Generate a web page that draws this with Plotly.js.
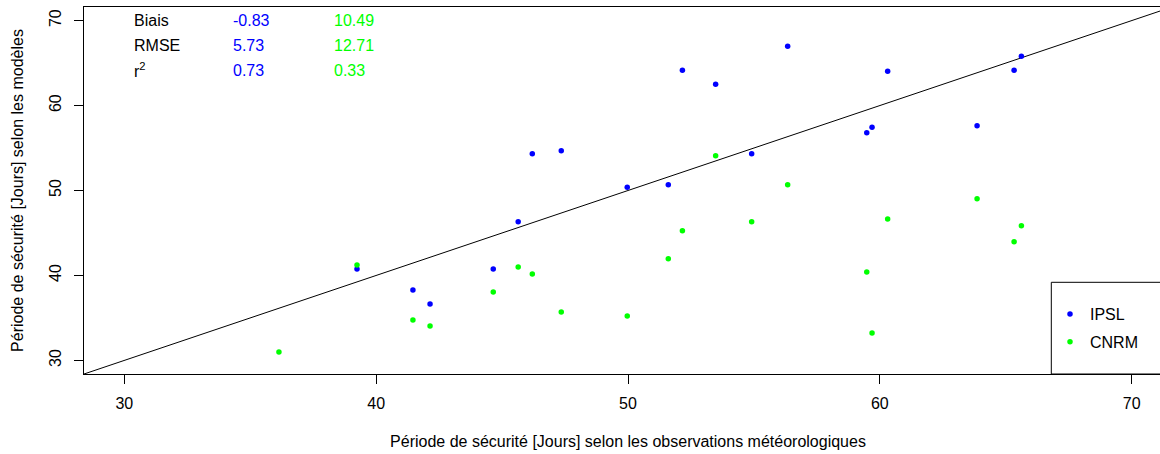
<!DOCTYPE html>
<html>
<head>
<meta charset="utf-8">
<script src="https://cdn.plot.ly/plotly-3.0.1.min.js"></script>
<style>
  html, body { margin: 0; padding: 0; overflow: hidden; background: #fff; }
  #chart { width: 1175px; height: 454px; }
</style>
</head>
<body>
<div id="chart"></div>
<script>
// ---- data ----
const obsDays  = [36.14, 39.24, 41.46, 42.14, 44.65, 45.64, 46.20, 47.35, 49.97, 51.60, 52.16, 53.48, 54.91, 56.34, 59.48, 59.69, 60.31, 63.86, 65.33, 65.62];
const ipslDays = [null, 40.76, 38.29, 36.64, 40.76, 46.33, 54.33, 54.68, 50.38, 50.68, 64.15, 62.50, 54.33, 66.97, 56.80, 57.44, 64.03, 57.63, 64.15, 65.80];
const cnrmDays = [30.99, 41.23, 34.76, 34.05, 38.05, 40.99, 40.17, 35.70, 35.23, 41.97, 45.27, 54.10, 46.33, 50.68, 40.41, 33.23, 46.65, 49.03, 43.97, 45.86];

const seriesNames = ["IPSL", "CNRM"];
const statLabels = ["Biais", "RMSE", "r<sup>2</sup>"];
const ipslStats  = ["-0.83", "5.73", "0.73"];
const cnrmStats  = ["10.49", "12.71", "0.33"];

const axisLimits = [28.4, 71.6];
const tickVals   = [30, 40, 50, 60, 70];

const xTitle = "Période de sécurité [Jours] selon les observations météorologiques";
const yTitle = "Période de sécurité [Jours] selon les modèles";

// ---- layout helpers (pixel -> paper) ----
const L = 84, T = 7, PW = 1088, PH = 367;
const px = v => (v - L) / PW;
const py = v => (T + PH - v) / PH;

const FONT = "Arial, 'Liberation Sans', sans-serif";
const BLUE = "#0000ff", GREEN = "#00ff00";

const traces = [
  { x: axisLimits, y: axisLimits, mode: "lines", line: { color: "#000", width: 1 },
    showlegend: false, hoverinfo: "skip" },
  { x: obsDays, y: ipslDays, mode: "markers", name: seriesNames[0], legendgroup: "a",
    marker: { color: BLUE, size: 5.5 } },
  { x: obsDays, y: cnrmDays, mode: "markers", name: seriesNames[1], legendgroup: "b",
    marker: { color: GREEN, size: 5.5 } }
];

const annotations = [];
const rowY = [20.7, 45.7, 70.5];
statLabels.forEach((lab, i) => {
  annotations.push({ xref: "paper", yref: "paper", x: px(132), y: py(rowY[i]), xanchor: "left", yanchor: "middle",
    text: lab, showarrow: false, font: { family: FONT, size: 16, color: "#000" } });
  annotations.push({ xref: "paper", yref: "paper", x: px(231), y: py(rowY[i]), xanchor: "left", yanchor: "middle",
    text: ipslStats[i], showarrow: false, font: { family: FONT, size: 16, color: BLUE } });
  annotations.push({ xref: "paper", yref: "paper", x: px(332), y: py(rowY[i]), xanchor: "left", yanchor: "middle",
    text: cnrmStats[i], showarrow: false, font: { family: FONT, size: 16, color: GREEN } });
});

const layout = {
  width: 1175, height: 454,
  margin: { l: L, r: 1175 - L - PW, t: T, b: 454 - T - PH, pad: 0 },
  paper_bgcolor: "#fff", plot_bgcolor: "#fff",
  font: { family: FONT, size: 16, color: "#000" },
  xaxis: {
    range: axisLimits, tickvals: tickVals, ticks: "outside", ticklen: 9, tickwidth: 1, tickcolor: "#000",
    showline: true, linecolor: "#000", linewidth: 1, mirror: true, showgrid: false, zeroline: false,
    ticklabelstandoff: 6,
    tickfont: { family: FONT, size: 16, color: "#000" },
    title: { text: xTitle, font: { family: FONT, size: 16, color: "#000" }, standoff: 24 }
  },
  yaxis: {
    range: axisLimits, tickvals: tickVals, ticks: "outside", ticklen: 9, tickwidth: 1, tickcolor: "#000",
    showline: true, linecolor: "#000", linewidth: 1, mirror: false, showgrid: false, zeroline: false,
    tickangle: -90, ticklabelstandoff: 7,
    tickfont: { family: FONT, size: 16, color: "#000" },
    title: { text: yTitle, font: { family: FONT, size: 16, color: "#000" }, standoff: 18 }
  },
  showlegend: true,
  legend: {
    x: px(1050), y: py(297), xanchor: "left", yanchor: "top",
    bgcolor: "rgba(0,0,0,0)", borderwidth: 0, tracegroupgap: 4,
    font: { family: FONT, size: 16, color: "#000" }, itemwidth: 30
  },
  shapes: [
    { type: "rect", xref: "paper", yref: "paper", x0: px(1051.3), x1: 1, y0: 0, y1: py(282.3),
      line: { color: "#000", width: 1 }, fillcolor: "rgba(0,0,0,0)" }
  ],
  annotations: annotations
};

Plotly.newPlot("chart", traces, layout, { staticPlot: true, displayModeBar: false });
</script>
</body>
</html>
